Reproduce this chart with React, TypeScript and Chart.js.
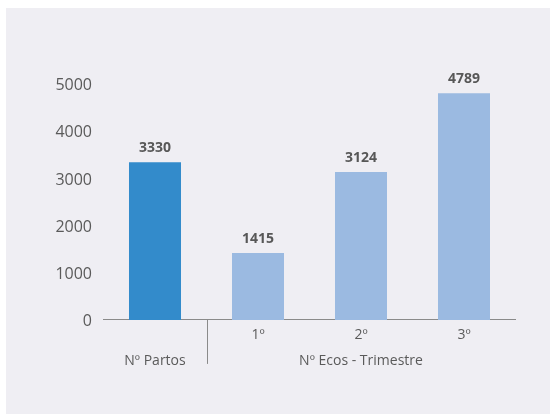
import React, { useEffect, useRef } from "react";
import { Chart, registerables } from "chart.js";

Chart.register(...registerables);

const categories: (string | string[])[] = [
  ["", "Nº Partos"],
  ["1º", ""],
  ["2º", "Nº Ecos - Trimestre"],
  ["3º", ""],
];
const values: number[] = [3330, 1415, 3124, 4789];
const barColors: string[] = ["#338BCB", "#9BBAE1", "#9BBAE1", "#9BBAE1"];
const yTicks: number[] = [0, 1000, 2000, 3000, 4000, 5000];

const FONT = "'Open Sans', sans-serif";

export default function App() {
  const ref = useRef<HTMLCanvasElement | null>(null);

  useEffect(() => {
    document.body.style.margin = "0";
    if (!ref.current) return;

    const valueLabels = {
      id: "valueLabels",
      afterDatasetsDraw(chart: any) {
        const ctx = chart.ctx;
        const meta = chart.getDatasetMeta(0);
        ctx.save();
        ctx.font = `bold 14px ${FONT}`;
        ctx.fillStyle = "#575757";
        ctx.textAlign = "center";
        ctx.textBaseline = "middle";
        meta.data.forEach((bar: any, i: number) => {
          ctx.fillText(String(values[i]), bar.x, bar.y - 14);
        });
        ctx.restore();
      },
    };

    const divider = {
      id: "divider",
      afterDraw(chart: any) {
        const x = chart.scales.x;
        const px = (x.getPixelForTick(0) + x.getPixelForTick(1)) / 2;
        const ctx = chart.ctx;
        ctx.save();
        ctx.strokeStyle = "#8a8a8a";
        ctx.lineWidth = 1;
        ctx.beginPath();
        ctx.moveTo(Math.round(px) + 0.5, chart.chartArea.bottom);
        ctx.lineTo(Math.round(px) + 0.5, chart.chartArea.bottom + 44);
        ctx.stroke();
        ctx.restore();
      },
    };

    const chart = new Chart(ref.current, {
      type: "bar",
      data: {
        labels: categories,
        datasets: [
          {
            data: values,
            backgroundColor: barColors,
            borderWidth: 0,
            barPercentage: 0.505,
            categoryPercentage: 1,
          },
        ],
      },
      options: {
        animation: false,
        responsive: false,
        maintainAspectRatio: false,
        layout: { padding: { left: 40, right: 34.5, top: 75.3, bottom: 38 } },
        plugins: {
          legend: { display: false },
          tooltip: { enabled: false },
        },
        scales: {
          x: {
            grid: { display: false, drawTicks: false },
            border: { display: true, color: "#8a8a8a", width: 1 },
            ticks: {
              color: "#5a5a5a",
              padding: 2,
              font: { family: FONT, size: 14, lineHeight: 1.86 },
              maxRotation: 0,
              autoSkip: false,
            },
          },
          y: {
            min: 0,
            max: 5000,
            afterFit: (s: any) => {
              s.width = 57.5;
            },
            afterBuildTicks: (s: any) => {
              s.ticks = yTicks.map((v) => ({ value: v }));
            },
            grid: { display: false, drawTicks: false },
            border: { display: false },
            ticks: {
              color: "#5a5a5a",
              padding: 11.5,
              labelOffset: 2,
              font: { family: FONT, size: 16 },
              callback: (v: any) => String(v),
            },
          },
        },
      },
      plugins: [valueLabels, divider],
    });
    return () => chart.destroy();
  }, []);

  return (
    <div
      style={{
        position: "absolute",
        left: 6,
        top: 8,
        width: 544,
        height: 406,
        background: "#EFEEF3",
      }}
    >
      <canvas ref={ref} width={544} height={406} style={{ display: "block" }} />
    </div>
  );
}
